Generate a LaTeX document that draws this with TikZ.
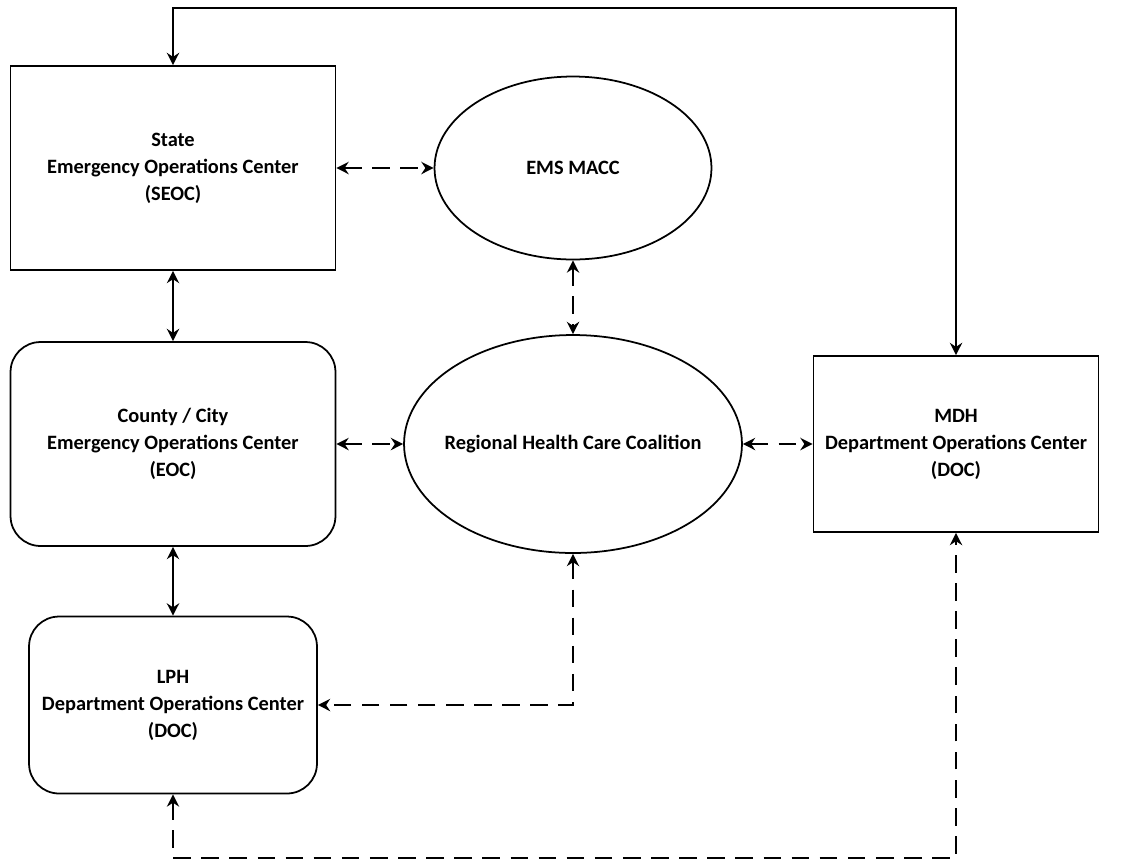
\documentclass[tikz,border=0pt]{standalone}
\usepackage{fontspec}
\setmainfont{Carlito}
\usetikzlibrary{shapes.geometric,arrows.meta}

\begin{document}
\begin{tikzpicture}[x=0.02cm, y=-0.02cm,
  every node/.style = {
     align=center,
     font=\fontsize{11.6}{15.4}\selectfont\bfseries},
  box/.style = {draw, line width=1pt, minimum width=6.5cm, minimum height=4.08cm},
  rbox/.style = {box, rounded corners=0.6cm},
  oval/.style = {draw, line width=1pt, ellipse, inner sep=0pt},
  link/.style = {line width=1.2pt, {Stealth[length=7pt,width=7pt]}-{Stealth[length=7pt,width=7pt]}},
  dlink/.style = {link, dash pattern=on 10pt off 6pt}]
  \useasboundingbox (0,0) rectangle (1125,863);

  \node[box] (seoc) at (173,168) {State\\Emergency Operations Center\\(SEOC)};
  \node[oval, minimum width=5.54cm, minimum height=3.66cm,
    label=center:EMS MACC] (ems) at (573,168) {};
  \node[rbox] (eoc) at (173,444) {County / City\\Emergency Operations Center\\(EOC)};
  \node[oval, minimum width=6.76cm, minimum height=4.36cm,
    label=center:Regional Health Care Coalition] (rhcc) at (573,444) {};
  \node[box, minimum width=5.7cm, minimum height=3.52cm] (mdh) at (956,444)
    {MDH\\Department Operations Center\\(DOC)};
  \node[rbox, minimum width=5.76cm, minimum height=3.54cm] (lph) at (173,705)
    {LPH\\Department Operations Center\\(DOC)};

  \coordinate (top) at (565,8);
  \coordinate (bot) at (565,858);

  % solid links
  \draw[link] (seoc.north) -- (seoc.north |- top) -- (mdh.north |- top) -- (mdh.north);
  \draw[link] (seoc.south) -- (eoc.north);
  \draw[link] (eoc.south) -- (lph.north);

  % dashed links
  \draw[dlink] (seoc.east) -- (ems.west);
  \draw[dlink] (ems.south) -- (rhcc.north);
  \draw[dlink] (eoc.east) -- (rhcc.west);
  \draw[dlink] (rhcc.east) -- (mdh.west);
  \draw[dlink] (rhcc.south) |- (lph.east);
  \draw[dlink] (lph.south) -- (lph.south |- bot) -- (mdh.south |- bot) -- (mdh.south);
\end{tikzpicture}
\end{document}
